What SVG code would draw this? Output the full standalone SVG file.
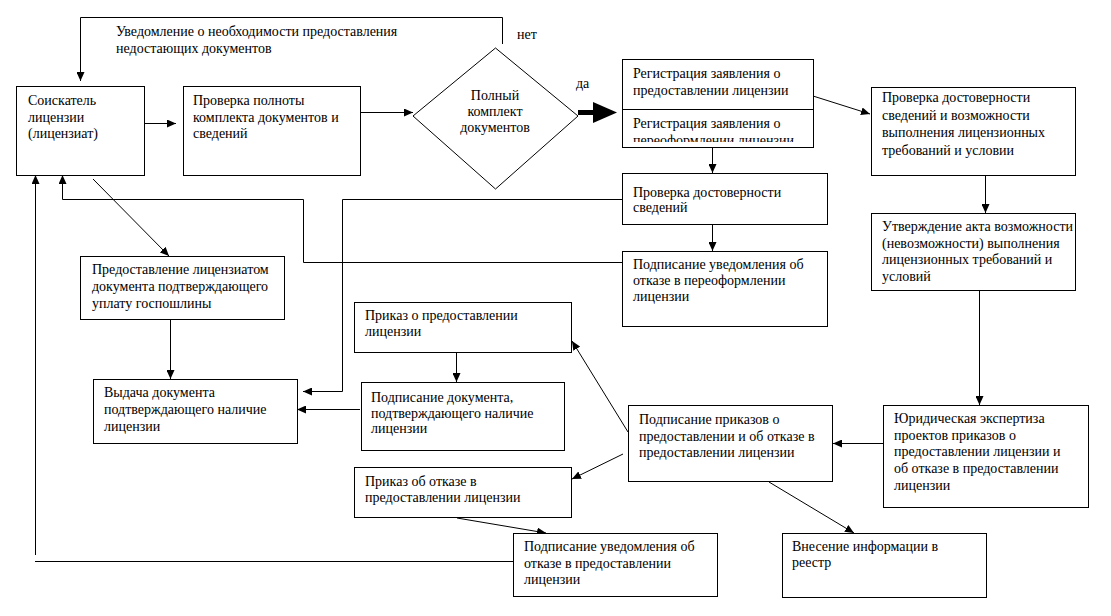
<svg xmlns="http://www.w3.org/2000/svg" width="1111" height="616" viewBox="0 0 1111 616">
<defs>
<marker id="ah" markerWidth="9" markerHeight="8" refX="9" refY="4" orient="auto" markerUnits="userSpaceOnUse">
<path d="M0,0 L9,4 L0,8 z" fill="#000"/>
</marker>
<clipPath id="regclip"><rect x="622" y="59" width="191" height="83"/></clipPath>
<style>
.box{fill:#fff;stroke:#000;stroke-width:1}
.t{font-family:"Liberation Serif","Times New Roman",serif;font-size:14px;fill:#000}
.c{fill:none;stroke:#000;stroke-width:1}
.a{marker-end:url(#ah)}
</style>
</defs>
<rect width="1111" height="616" fill="#fff"/>

<g id="connectors">
<path class="c a" d="M144.5 123.5 H176"/>
<path class="c a" d="M360.5 112.5 H413"/>
<path class="c a" d="M502.5 44 V17.5 H80.5 V81"/>
<line x1="578" y1="112.5" x2="594" y2="112.5" stroke="#000" stroke-width="5"/>
<polygon points="593,102 617,112.5 593,123" fill="#000"/>
<path class="c a" d="M813 96 L870 114"/>
<path class="c a" d="M712.5 147 V173"/>
<path class="c a" d="M985.5 175 V213"/>
<path class="c a" d="M979.5 290 V405"/>
<path class="c a" d="M883 443.5 H833"/>
<path class="c a" d="M628 432 L572 341"/>
<path class="c a" d="M623 454 L572 479"/>
<path class="c a" d="M769 482 L854 533"/>
<path class="c a" d="M457 518 L546 533"/>
<path class="c" d="M513 561.5 H35"/>
<path class="c a" d="M35.5 555 V175"/>
<path class="c a" d="M456.5 352 V382"/>
<path class="c a" d="M360 409.5 H297"/>
<path class="c a" d="M622 199.5 H342.5 V391.5 H303"/>
<path class="c a" d="M622 262.5 H303.5 V199.5 H62.5 V175"/>
<path class="c a" d="M93 179 L169 256"/>
<path class="c a" d="M170.5 319 V379"/>
<path class="c a" d="M712.5 224 V251"/>
</g>

<g id="label-notify">
<text class="t" x="116" y="36">Уведомление о необходимости предоставления</text>
<text class="t" x="116" y="53">недостающих документов</text>
</g>
<g id="label-net"><text class="t" x="517" y="39">нет</text></g>
<g id="label-da"><text class="t" x="576" y="88">да</text></g>

<g id="n-applicant">
<rect class="box" x="16.5" y="86.5" width="128" height="89"/>
<text class="t" x="28" y="105">Соискатель</text>
<text class="t" x="28" y="122">лицензии</text>
<text class="t" x="28" y="138">(лицензиат)</text>
</g>

<g id="n-check-complete">
<rect class="box" x="183.5" y="86.5" width="177" height="89"/>
<text class="t" x="193" y="105">Проверка полноты</text>
<text class="t" x="193" y="122">комплекта документов и</text>
<text class="t" x="193" y="138">сведений</text>
</g>

<g id="n-decision">
<polygon class="box" points="495.5,48 578,116 495.5,189 413,116"/>
<text class="t" x="495" y="100" text-anchor="middle">Полный</text>
<text class="t" x="495" y="116" text-anchor="middle">комплект</text>
<text class="t" x="495" y="132" text-anchor="middle">документов</text>
</g>

<g id="n-registration">
<rect class="box" x="622.5" y="59.5" width="191" height="88"/>
<line class="c" x1="622.5" y1="109.5" x2="813.5" y2="109.5"/>
<g clip-path="url(#regclip)">
<text class="t" x="633" y="78">Регистрация заявления о</text>
<text class="t" x="633" y="95">предоставлении лицензии</text>
<text class="t" x="633" y="128">Регистрация заявления о</text>
<text class="t" x="633" y="145">переоформлении лицензии</text>
</g>
</g>

<g id="n-verify-full">
<rect class="box" x="871.5" y="87.5" width="204" height="88"/>
<text class="t" x="882" y="102">Проверка достоверности</text>
<text class="t" x="882" y="120">сведений и возможности</text>
<text class="t" x="882" y="137">выполнения лицензионных</text>
<text class="t" x="882" y="155">требований и условии</text>
</g>

<g id="n-act">
<rect class="box" x="871.5" y="213.5" width="204" height="77"/>
<text class="t" x="882" y="231">Утверждение акта возможности</text>
<text class="t" x="882" y="248">(невозможности) выполнения</text>
<text class="t" x="882" y="264">лицензионных требований и</text>
<text class="t" x="882" y="281">условий</text>
</g>

<g id="n-legal">
<rect class="box" x="883.5" y="405.5" width="205" height="102"/>
<text class="t" x="894" y="423">Юридическая экспертиза</text>
<text class="t" x="894" y="440">проектов приказов о</text>
<text class="t" x="894" y="456">предоставлении лицензии и</text>
<text class="t" x="894" y="473">об отказе в предоставлении</text>
<text class="t" x="894" y="490">лицензии</text>
</g>

<g id="n-sign-orders">
<rect class="box" x="628.5" y="405.5" width="204" height="76"/>
<text class="t" x="639" y="424">Подписание приказов о</text>
<text class="t" x="639" y="441">предоставлении и об отказе в</text>
<text class="t" x="639" y="457">предоставлении лицензии</text>
</g>

<g id="n-registry">
<rect class="box" x="782.5" y="533.5" width="204" height="64"/>
<text class="t" x="792" y="551">Внесение информации в</text>
<text class="t" x="792" y="567">реестр</text>
</g>

<g id="n-sign-refusal-notice">
<rect class="box" x="513.5" y="533.5" width="204" height="63"/>
<text class="t" x="524" y="551">Подписание уведомления об</text>
<text class="t" x="524" y="568">отказе в предоставлении</text>
<text class="t" x="524" y="584">лицензии</text>
</g>

<g id="n-refusal-order">
<rect class="box" x="354.5" y="467.5" width="217" height="50"/>
<text class="t" x="365" y="486">Приказ об отказе в</text>
<text class="t" x="365" y="502">предоставлении лицензии</text>
</g>

<g id="n-sign-document">
<rect class="box" x="361.5" y="382.5" width="203" height="68"/>
<text class="t" x="371" y="402">Подписание документа,</text>
<text class="t" x="371" y="418">подтверждающего наличие</text>
<text class="t" x="371" y="433">лицензии</text>
</g>

<g id="n-grant-order">
<rect class="box" x="354.5" y="302.5" width="217" height="50"/>
<text class="t" x="365" y="320">Приказ о предоставлении</text>
<text class="t" x="365" y="336">лицензии</text>
</g>

<g id="n-issue">
<rect class="box" x="93.5" y="379.5" width="204" height="64"/>
<text class="t" x="104" y="397">Выдача документа</text>
<text class="t" x="104" y="414">подтверждающего наличие</text>
<text class="t" x="104" y="431">лицензии</text>
</g>

<g id="n-fee">
<rect class="box" x="80.5" y="256.5" width="204" height="63"/>
<text class="t" x="92" y="274">Предоставление лицензиатом</text>
<text class="t" x="92" y="291">документа подтверждающего</text>
<text class="t" x="92" y="308">уплату госпошлины</text>
</g>

<g id="n-verify">
<rect class="box" x="622.5" y="173.5" width="205" height="51"/>
<text class="t" x="633" y="197">Проверка достоверности</text>
<text class="t" x="633" y="212">сведений</text>
</g>

<g id="n-reissue-refusal">
<rect class="box" x="622.5" y="251.5" width="205" height="75"/>
<text class="t" x="633" y="269">Подписание уведомления об</text>
<text class="t" x="633" y="285">отказе в переоформлении</text>
<text class="t" x="633" y="301">лицензии</text>
</g>
</svg>
